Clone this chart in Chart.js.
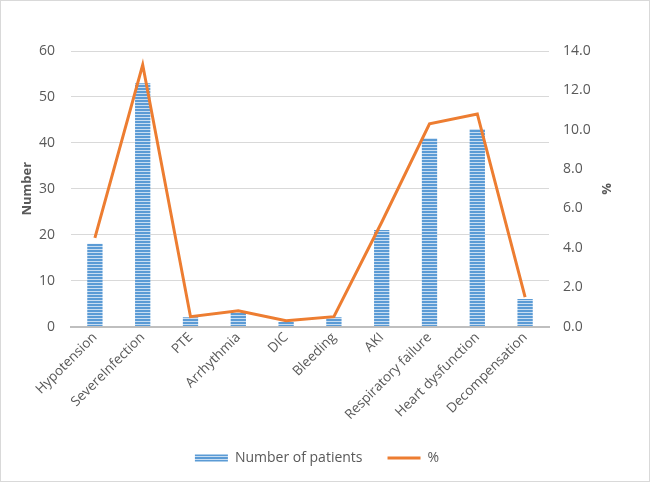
<!DOCTYPE html>
<html>
<head>
<meta charset="utf-8">
<script src="https://cdn.jsdelivr.net/npm/chart.js@4"></script>
<style>
  html, body { margin:0; padding:0; background:#fff; }
  .frame { position:relative; width:648px; height:480px; border:1px solid #d9d9d9; background:#fff; }
  canvas { display:block; }
</style>
</head>
<body>
<div class="frame"><canvas id="chart" width="648" height="480"></canvas></div>
<script>
// ── DATA ──
const categories = ['Hypotension','SevereInfection','PTE','Arrhythmia','DIC','Bleeding','AKI','Respiratory failure','Heart dysfunction','Decompensation'];
const patients = [18, 53, 2, 3, 1, 2, 21, 41, 43, 6];
const percent = [4.5, 13.3, 0.5, 0.8, 0.3, 0.5, 5.3, 10.3, 10.8, 1.5];

// striped fill for bars
function stripePattern() {
    const c = document.createElement('canvas');
    c.width = 4; c.height = 3;
    const g = c.getContext('2d');
    g.fillStyle = '#5b9bd5'; g.fillRect(0, 0, 4, 2);
    g.fillStyle = '#c9def2'; g.fillRect(0, 2, 4, 1);
    return g.createPattern(c, 'repeat');
}

const txt = '#595959';
const fam = "'Open Sans', 'Liberation Sans', sans-serif";
const font = { family: fam, size: 14 };

new Chart(document.getElementById('chart'), {
    data: {
        labels: categories,
        datasets: [
            { type:'line', label:'%', data:percent, yAxisID:'y1', borderColor:'#ed7d31', backgroundColor:'#ed7d31',
              borderWidth:3, pointRadius:0, tension:0, pointStyle:'line', order:0 },
            { type:'bar', label:'Number of patients', data:patients, yAxisID:'y', backgroundColor:stripePattern(),
              borderColor:'#5b9bd5', borderWidth:0, barPercentage:0.32, categoryPercentage:1, pointStyle:'rect', order:1 }
        ]
    },
    options: {
        responsive:false, animation:false,
        layout:{ autoPadding:false, padding:{ left:14, right:30, top:50, bottom:6 } },
        plugins:{
            legend:{
                position:'bottom', reverse:true,
                labels:{ color:txt, font:font, usePointStyle:true, pointStyleWidth:33, boxHeight:7, padding:25 }
            },
            tooltip:{ enabled:false }
        },
        scales:{
            x:{
                grid:{ display:false, drawTicks:false },
                border:{ color:'#bfbfbf', width:2 },
                ticks:{ color:txt, font:{ family:fam, size:13.5 }, minRotation:45, maxRotation:45, padding:3 },
                afterFit: s => {
                    s.paddingLeft = 0; s.paddingRight = 0;
                    s.getPadding = () => ({ left:0, right:0, top:0, bottom:0 });
                }
            },
            y:{
                position:'left', min:0, max:60,
                grid:{ color:'#d9d9d9', drawTicks:false },
                border:{ display:false },
                ticks:{ stepSize:10, color:txt, font:font, padding:16 },
                title:{ display:true, text:'Number', color:txt, font:{ family:fam, size:13, weight:'bold' }, padding:4 },
                afterFit: s => { s.width = 56; }
            },
            y1:{
                position:'right', min:0, max:14,
                grid:{ display:false, drawTicks:false },
                border:{ display:false },
                ticks:{ stepSize:2, color:txt, font:font, padding:14, callback:v => v.toFixed(1) },
                title:{ display:true, text:'%', color:txt, font:{ family:fam, size:13, weight:'bold' }, padding:5 },
                afterFit: s => { s.width = 70; }
            }
        }
    }
});
</script>
</body>
</html>
